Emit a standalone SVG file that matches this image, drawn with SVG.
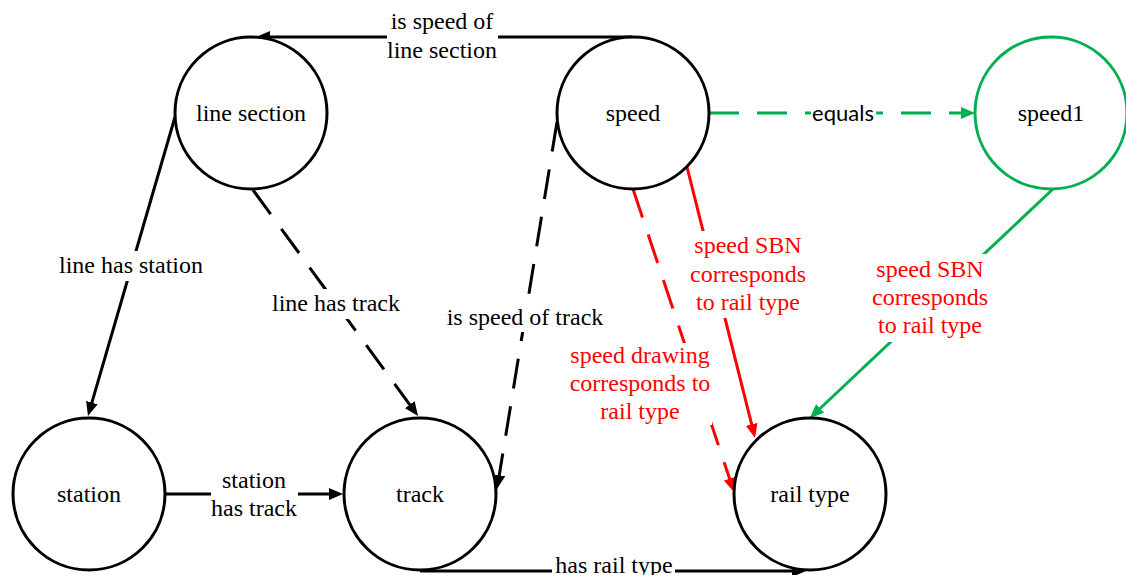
<svg xmlns="http://www.w3.org/2000/svg" width="1126" height="575" viewBox="0 0 1126 575">
  <style>
    .node { fill: #ffffff; stroke-width: 3; }
    .blk { stroke: #000000; }
    .grn { stroke: #00B050; }
    .t { font-family: "Liberation Serif", "Times New Roman", serif; font-size: 24px; text-anchor: middle; fill: #000000; }
    .sans { font-family: Lato, "Liberation Sans", sans-serif; font-size: 22px; }
    .red { fill: #FF0000; }
    .edge { fill: none; stroke-width: 3; }
    .dash { stroke-dasharray: 30 18; }
    .bg { fill: #ffffff; stroke: none; }
  </style>
  <defs>
    <marker id="arrow-black" markerUnits="userSpaceOnUse" viewBox="0 0 14 12" refX="6" refY="6" markerWidth="14" markerHeight="12" orient="auto">
      <path d="M0,0 L14,6 L0,12 z" fill="#000000"/>
    </marker>
    <marker id="arrow-red" markerUnits="userSpaceOnUse" viewBox="0 0 14 12" refX="6" refY="6" markerWidth="14" markerHeight="12" orient="auto">
      <path d="M0,0 L14,6 L0,12 z" fill="#FF0000"/>
    </marker>
    <marker id="arrow-green" markerUnits="userSpaceOnUse" viewBox="0 0 14 12" refX="6" refY="6" markerWidth="14" markerHeight="12" orient="auto">
      <path d="M0,0 L14,6 L0,12 z" fill="#00B050"/>
    </marker>
  </defs>

  <rect width="1126" height="575" fill="#ffffff"/>

  <!-- relations: line, white label backing, label -->
  <g id="connectors">
    <!-- speed -> line section -->
    <path class="edge" stroke="#000" d="M632,37 L264,37" marker-end="url(#arrow-black)"/>
    <rect class="bg" x="387" y="10" width="111" height="55"/>
    <text class="t" x="442" y="29">is speed of</text>
    <text class="t" x="442" y="58">line section</text>

    <!-- speed -> speed1 -->
    <path class="edge dash" stroke="#00B050" d="M709,113 L967,113" marker-end="url(#arrow-green)"/>
    <rect class="bg" x="811" y="100" width="65" height="26"/>
    <text class="t sans" x="843" y="121">equals</text>

    <!-- line section -> station -->
    <path class="edge" stroke="#000" d="M175,117 L90.2,408.3" marker-end="url(#arrow-black)"/>
    <rect class="bg" x="59" y="251" width="144" height="30"/>
    <text class="t" x="131" y="273">line has station</text>

    <!-- line section -> track -->
    <path class="edge dash" stroke="#000" d="M253,190 L413.3,409.5" marker-end="url(#arrow-black)"/>
    <rect class="bg" x="270" y="289" width="132" height="30"/>
    <text class="t" x="336" y="311">line has track</text>

    <!-- speed -> track -->
    <path class="edge dash" stroke="#000" d="M557,122 L498.3,481.1" marker-end="url(#arrow-black)"/>
    <rect class="bg" x="446" y="304" width="158" height="28"/>
    <text class="t" x="525" y="325">is speed of track</text>

    <!-- station -> track -->
    <path class="edge" stroke="#000" d="M165,494 L335,494" marker-end="url(#arrow-black)"/>
    <rect class="bg" x="211" y="468" width="87" height="56"/>
    <text class="t" x="254" y="488">station</text>
    <text class="t" x="254" y="516">has track</text>

    <!-- track -> rail type -->
    <path class="edge" stroke="#000" d="M420,571 L798,571" marker-end="url(#arrow-black)"/>
    <rect class="bg" x="552" y="553" width="123" height="22"/>
    <text class="t" x="614" y="573">has rail type</text>

    <!-- speed -> rail type (drawing) -->
    <path class="edge dash" stroke="#FF0000" d="M633,189 L731.5,484.4" marker-end="url(#arrow-red)"/>
    <rect class="bg" x="568" y="343" width="144" height="82"/>
    <text class="t red" x="640" y="363">speed drawing</text>
    <text class="t red" x="640" y="391">corresponds to</text>
    <text class="t red" x="640" y="419">rail type</text>

    <!-- speed -> rail type (SBN) -->
    <path class="edge" stroke="#FF0000" d="M687,167 L753.1,430.2" marker-end="url(#arrow-red)"/>
    <rect class="bg" x="690" y="231" width="116" height="87"/>
    <text class="t red" x="748" y="253">speed SBN</text>
    <text class="t red" x="748" y="282">corresponds</text>
    <text class="t red" x="748" y="310">to rail type</text>

    <!-- speed1 -> rail type (SBN) -->
    <path class="edge" stroke="#00B050" d="M1053,189 L815.8,412.5" marker-end="url(#arrow-green)"/>
    <rect class="bg" x="872" y="254" width="116" height="88"/>
    <text class="t red" x="930" y="277">speed SBN</text>
    <text class="t red" x="930" y="305">corresponds</text>
    <text class="t red" x="930" y="333">to rail type</text>
  </g>

  <!-- entities -->
  <g id="node-line-section">
    <circle class="node blk" cx="251" cy="113" r="76"/>
    <text class="t" x="251" y="121">line section</text>
  </g>
  <g id="node-speed">
    <circle class="node blk" cx="633" cy="113" r="76"/>
    <text class="t" x="633" y="121">speed</text>
  </g>
  <g id="node-speed1">
    <circle class="node grn" cx="1051" cy="113" r="76"/>
    <text class="t" x="1051" y="121">speed1</text>
  </g>
  <g id="node-station">
    <circle class="node blk" cx="89" cy="494" r="76"/>
    <text class="t" x="89" y="502">station</text>
  </g>
  <g id="node-track">
    <circle class="node blk" cx="420" cy="494" r="76"/>
    <text class="t" x="420" y="502">track</text>
  </g>
  <g id="node-rail-type">
    <circle class="node blk" cx="810" cy="494" r="76"/>
    <text class="t" x="810" y="502">rail type</text>
  </g>
</svg>
